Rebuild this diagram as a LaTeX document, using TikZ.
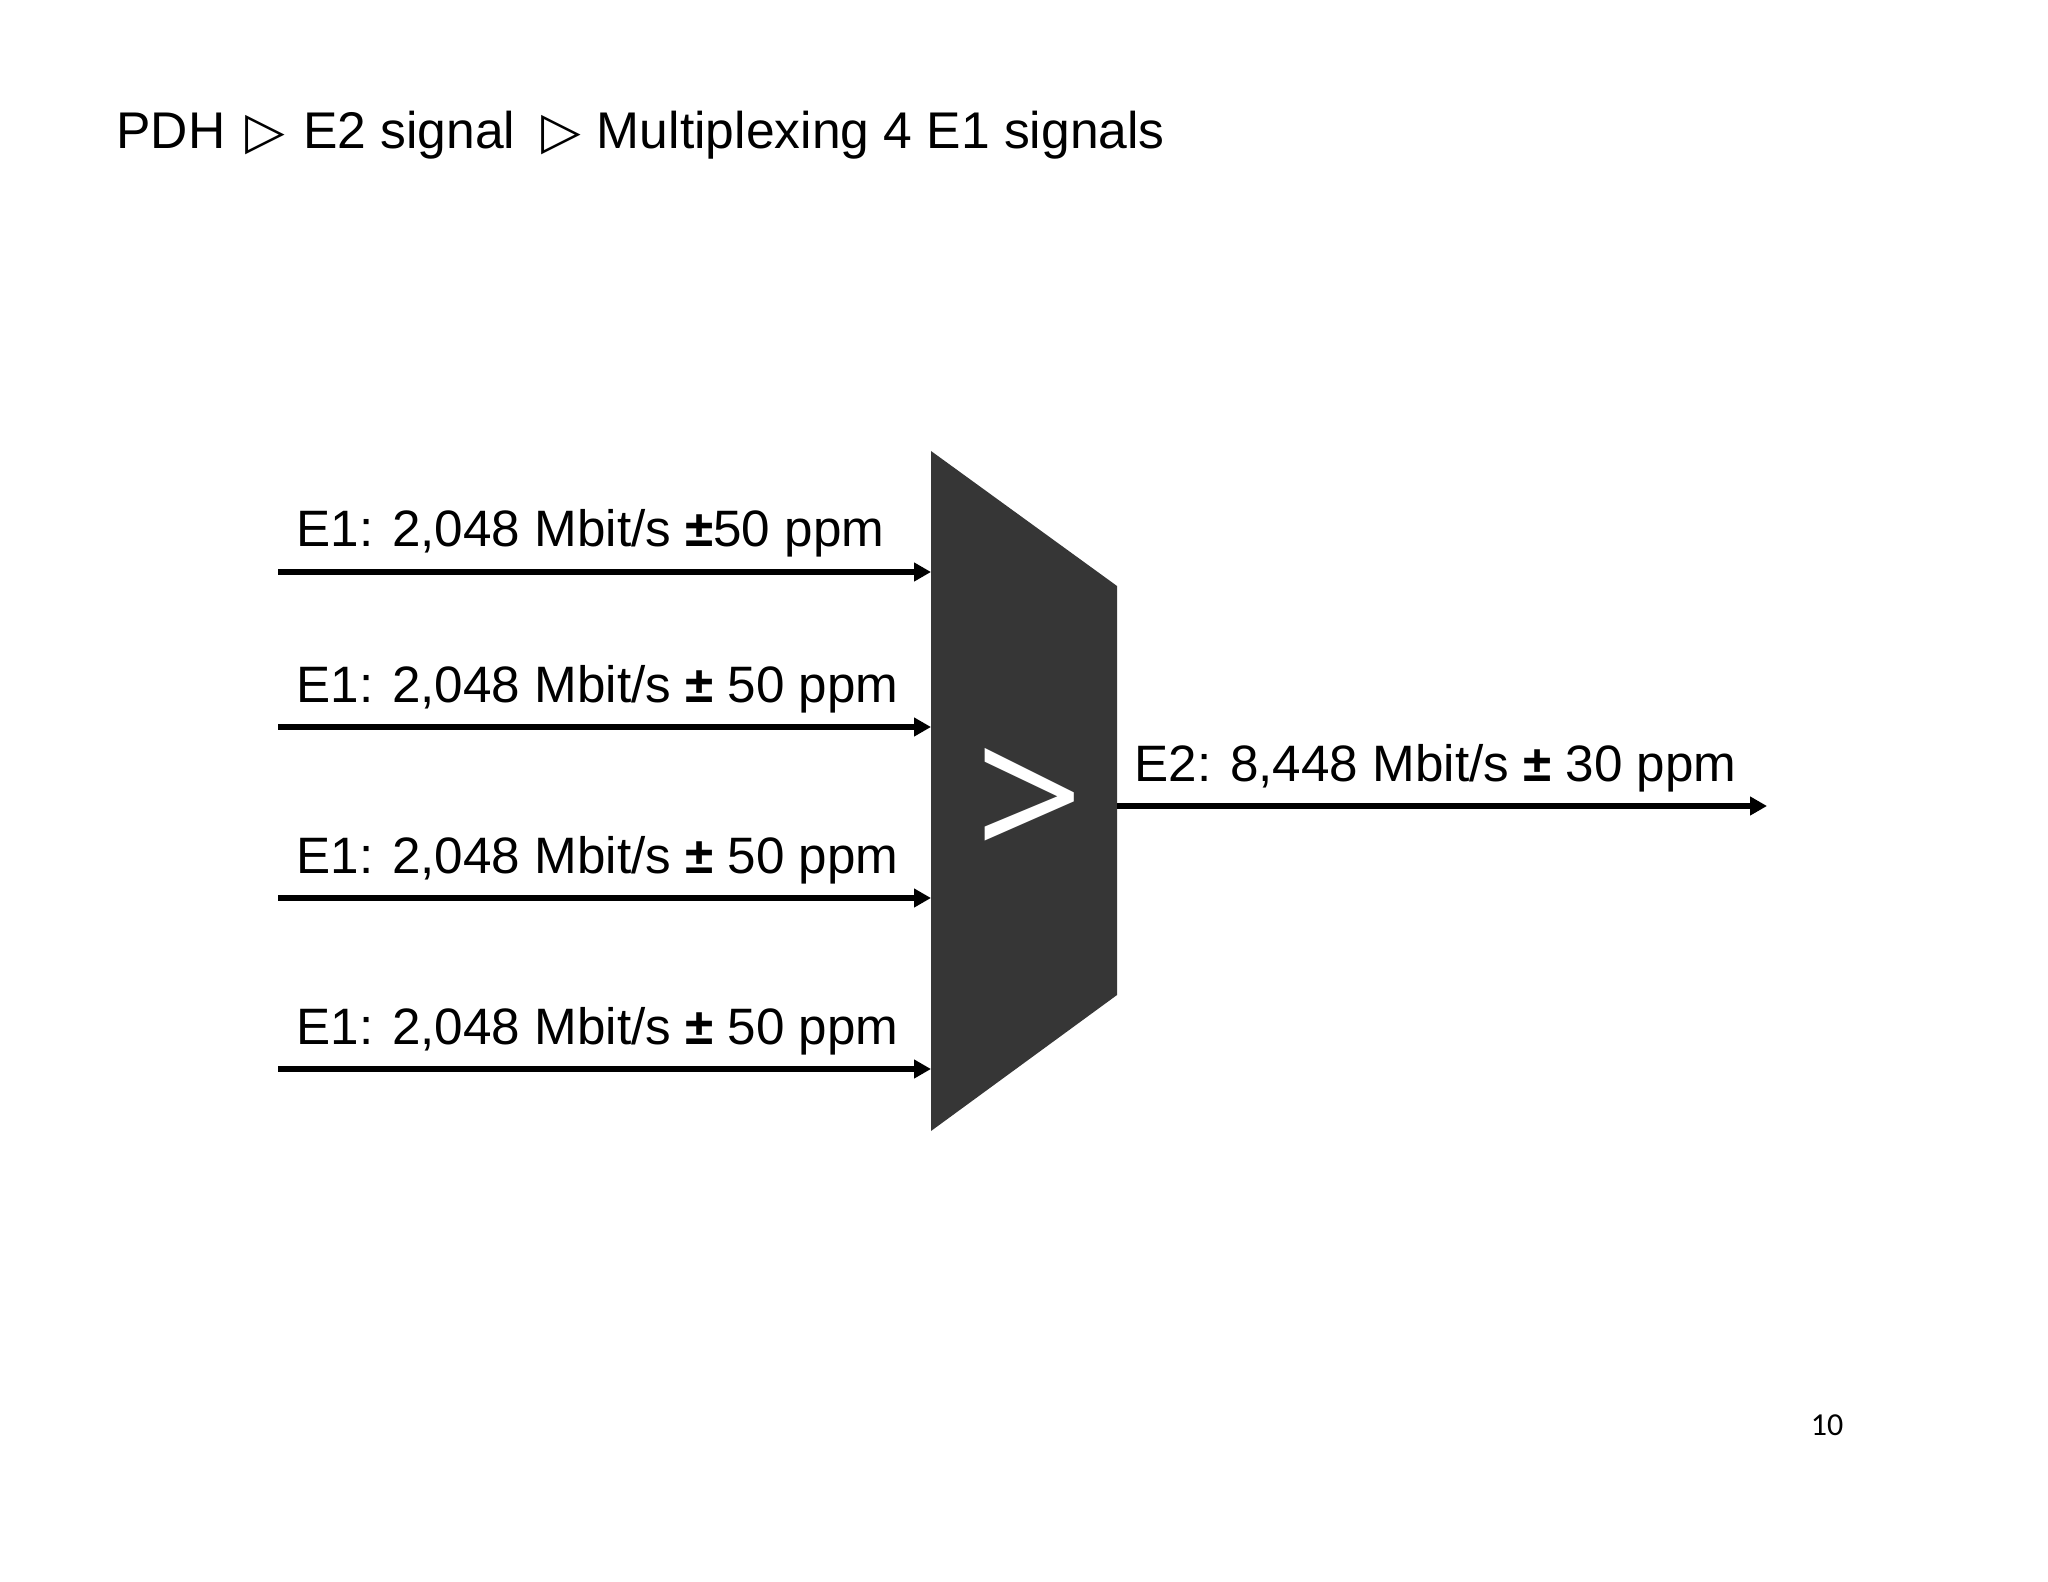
\documentclass[tikz,border=0pt]{standalone}
\usepackage{fontspec}
\setmainfont{Liberation Sans}
\newfontfamily\dejavu{DejaVu Sans}
\newfontfamily\carlito{Carlito}
\newfontfamily\opensans{Open Sans}
\usetikzlibrary{arrows.meta}
\definecolor{muxgray}{RGB}{54,54,54}
\begin{document}
\begin{tikzpicture}[x=0.5pt,y=-0.5pt,
  sig/.style={line width=3pt,-{Triangle[length=8.5pt,width=9pt]}},
  lbl/.style={anchor=base west,inner sep=0pt,font=\fontsize{25.6}{31}\selectfont}]
\useasboundingbox (0,0) rectangle (2048,1582);
% title
\node[anchor=base west,inner sep=0pt,font=\fontsize{25.8}{30}\selectfont] (title) at (116,149)
  {PDH\hspace{10pt}{\dejavu ▷}\hspace{9pt}E2 signal\hspace{13pt}{\dejavu ▷}\hspace{8pt}Multiplexing 4 E1 signals};
% multiplexer
\fill[muxgray] (931,451) -- (1117,586) -- (1117,995) -- (931,1131) -- cycle;
\node[text=white,inner sep=0pt,font=\opensans\fontsize{95}{95}\selectfont] (sym) at (1030,806) {>};
% coordinates
\coordinate (s1) at (278,572);  \coordinate (e1) at (931,572);
\coordinate (s2) at (278,727);  \coordinate (e2) at (931,727);
\coordinate (s3) at (278,898);  \coordinate (e3) at (931,898);
\coordinate (s4) at (278,1069); \coordinate (e4) at (931,1069);
\coordinate (out) at (1117,806); \coordinate (outend) at (1767,806);
% arrows
\draw[sig] (s1) -- (e1);
\draw[sig] (s2) -- (e2);
\draw[sig] (s3) -- (e3);
\draw[sig] (s4) -- (e4);
\draw[sig] (out) -- (outend);
% labels
\node[lbl] (l1) at (296,547) {E1: 2,048 Mbit/s \textbf{±}50 ppm};
\node[lbl] (l2) at (296,702) {E1: 2,048 Mbit/s \textbf{±} 50 ppm};
\node[lbl] (l3) at (296,873) {E1: 2,048 Mbit/s \textbf{±} 50 ppm};
\node[lbl] (l4) at (296,1044) {E1: 2,048 Mbit/s \textbf{±} 50 ppm};
\node[lbl] (lo) at (1134,781) {E2: 8,448 Mbit/s \textbf{±} 30 ppm};
% page number
\node[anchor=base,inner sep=0pt,font=\carlito\fontsize{16}{19}\selectfont] (pg) at (1827,1435) {10};
\end{tikzpicture}
\end{document}
